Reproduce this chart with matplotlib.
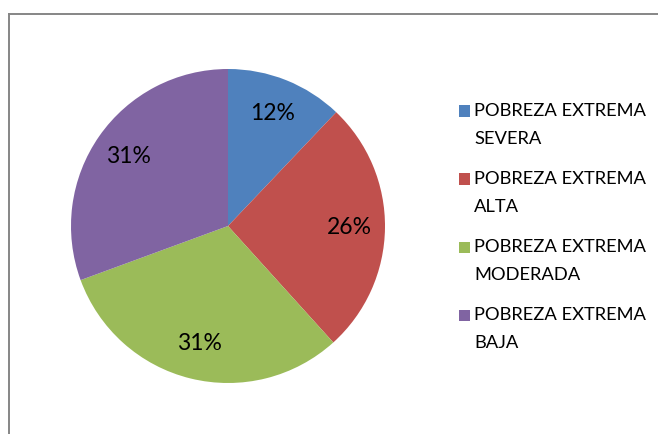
import matplotlib
matplotlib.use("Agg")
import matplotlib.pyplot as plt
from matplotlib.patches import Rectangle
from matplotlib.lines import Line2D

plt.rcParams['font.family'] = ['Lato', 'DejaVu Sans']

# datos
categorias = ["POBREZA EXTREMA\nSEVERA", "POBREZA EXTREMA\nALTA",
              "POBREZA EXTREMA\nMODERADA", "POBREZA EXTREMA\nBAJA"]
valores = [12.1, 26.2, 31.1, 30.6]
colores = ["#4F81BD", "#C0504D", "#9BBB59", "#8064A2"]

W, H = 658, 434
fig = plt.figure(figsize=(W / 100, H / 100), dpi=100)

# pie: centro (228, 226) px, radio 157 px
cx, cy, r = 228, 226, 157
ax = fig.add_axes([(cx - r) / W, (H - cy - r) / H, 2 * r / W, 2 * r / H])
ax.pie(valores, colors=colores, startangle=90, counterclock=False,
       autopct='%.0f%%', pctdistance=0.77, radius=1,
       wedgeprops=dict(linewidth=0),
       textprops=dict(fontsize=16.5, color='black'))
ax.set_xlim(-1, 1)
ax.set_ylim(-1, 1)
ax.set_aspect('equal')
ax.axis('off')

# leyenda a mano (cuadro alineado con la primera linea)
y0 = 111
for i, (lab, col) in enumerate(zip(categorias, colores)):
    yc = y0 + i * 68
    fig.patches.append(Rectangle((459 / W, (H - yc - 5.5) / H), 11 / W, 11 / H,
                                 transform=fig.transFigure, facecolor=col,
                                 edgecolor='none'))
    fig.text(474 / W, (H - yc + 7.5) / H, lab, fontsize=13.2, color='black',
             va='top', ha='left', linespacing=1.88)

# borde del area del grafico (solo arriba e izquierda visibles)
fig.lines.append(Line2D([9 / W, 1], [(H - 13.5) / H] * 2,
                        transform=fig.transFigure, color='#868686', lw=1.4))
fig.lines.append(Line2D([9 / W] * 2, [0, (H - 13.5) / H],
                        transform=fig.transFigure, color='#868686', lw=1.4))

fig.savefig("out.png", dpi=100)
